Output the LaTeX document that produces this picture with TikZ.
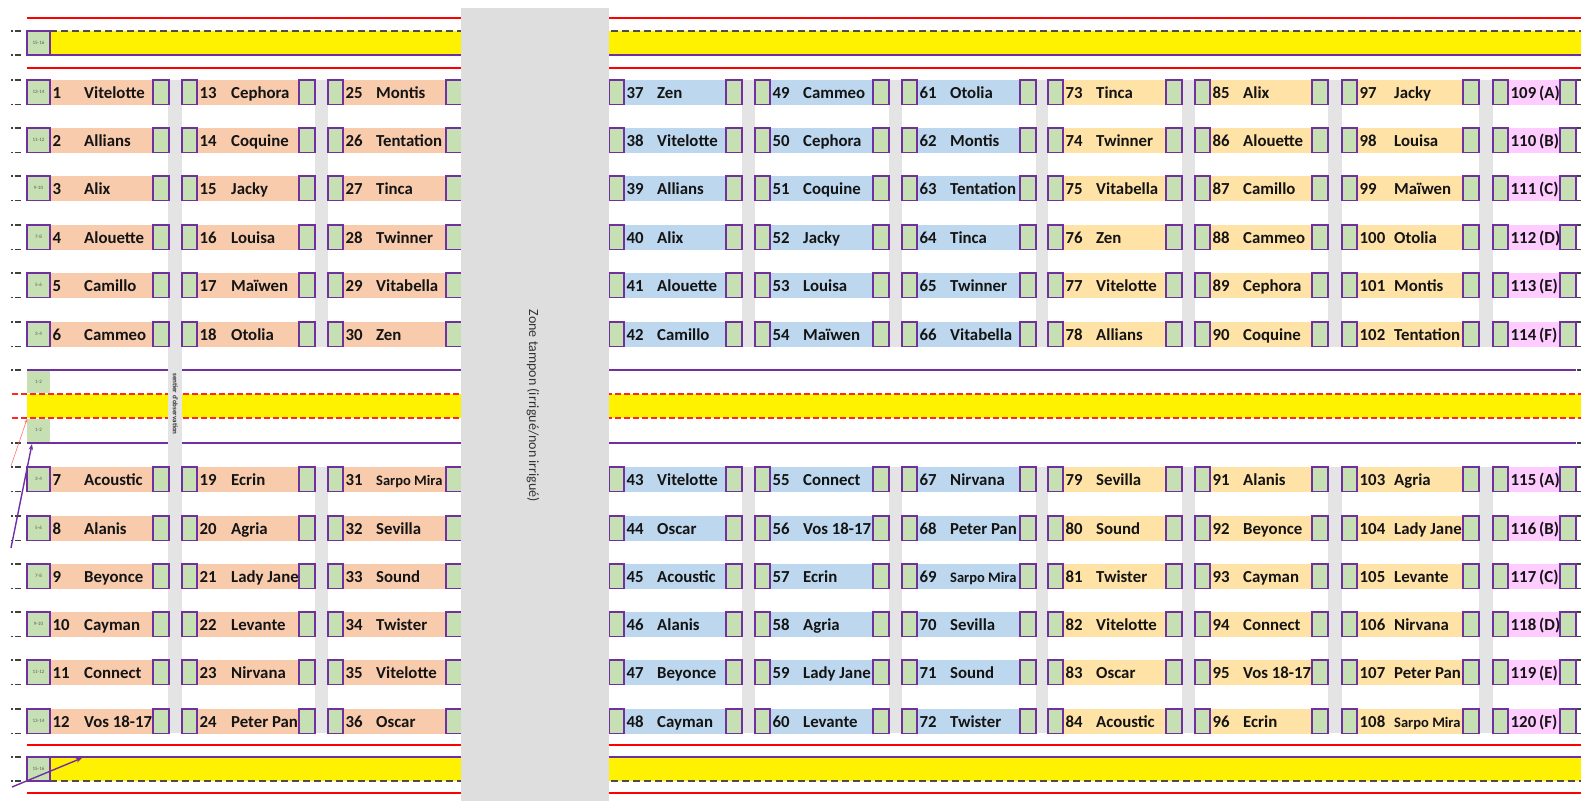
\documentclass[tikz,border=0pt]{standalone}
\usepackage{fontspec}
\setmainfont{Carlito}
\usetikzlibrary{arrows.meta}
\definecolor{plotgreen}{HTML}{C6E0B4}
\definecolor{plotpurple}{HTML}{7030A0}
\definecolor{peach}{HTML}{F8CBAD}
\definecolor{lblue}{HTML}{BDD7EE}
\definecolor{lorange}{HTML}{FFE2A6}
\definecolor{lpink}{HTML}{FFCCFF}
\definecolor{stripgrey}{HTML}{E4E4E4}
\definecolor{zonegrey}{HTML}{DEDEDE}
\newcommand\cellfont{\bfseries\fontsize{16.8}{17}\selectfont}
\newcommand\smallname[1]{{\fontsize{14.5}{15}\selectfont #1}}
% #1 left square x, #2 right square x, #3 band start x, #4 colour, #5 name offset, #6 list
\newcommand\plotcolumn[6]{%
  \foreach \n/\nm [count=\i from 0] in {#6}{%
    \pgfmathsetmacro\tp{{80,128,176,225,273,322,467,516,564,612,660,709}[\i]}%
    \fill[#4] ({#3},{\tp}) rectangle ({#2},{\tp+24.5});
    \draw[plotsq] ({#1},{\tp}) rectangle ({#3},{\tp+24.5});
    \draw[plotsq] ({#2},{\tp}) rectangle ({#2+16},{\tp+24.5});
    \node[celltxt] (n\n) at ({#3+2.5},{\tp+18.5}) {\n};
    \node[celltxt] (v\n) at ({#3+#5},{\tp+18.5}) {\nm};
  }}
\begin{document}
\begin{tikzpicture}[x=1pt,y=-1pt,
  plotsq/.style={draw=plotpurple,line width=1.5pt,fill=plotgreen},
  celltxt/.style={font=\cellfont,anchor=base west,inner sep=0pt,text=black!92},
  lbltxt/.style={font=\fontsize{5}{5}\selectfont,text=black!65,inner sep=0pt},
  redline/.style={draw=red,line width=2.8pt},
  purpleline/.style={draw=plotpurple,line width=2pt},
  reddash/.style={draw=red!85,line width=1.4pt,dash pattern=on 6pt off 3pt},
  blackdash/.style={draw=black!70,line width=1.6pt,dash pattern=on 7pt off 4pt},
  ticks/.style={draw=black!75,line width=1.1pt},
  strip/.style={fill=stripgrey}
]
\useasboundingbox (0,0) rectangle (1581,801);
\fill[white] (0,0) rectangle (1581,801);

% ---------- top band ----------
\draw[redline] (27,18) -- (1581,18);
\fill[yellow] (50,31) rectangle (1581,55);
\draw[blackdash] (50,31) -- (1581,31);
\draw[purpleline] (27,55) -- (1581,55);
\draw[plotsq] (27,31) rectangle (50,55);
\node[lbltxt] (ltop) at (38.5,43) {15-16};
\draw[redline] (27,68) -- (1581,68);

% ---------- middle band ----------
\fill[yellow] (27,394) rectangle (1581,418);
\draw[reddash] (12,394) -- (1581,394);
\draw[reddash] (12,418) -- (1581,418);
\draw[purpleline] (27,370) -- (1576,370);
\draw[purpleline] (27,443) -- (1576,443);
\fill[plotgreen] (27,371) rectangle (50,393);
\fill[plotgreen] (27,419) rectangle (50,442);
\node[lbltxt] (lmid1) at (38.5,382) {1-2};
\node[lbltxt] (lmid2) at (38.5,430) {1-2};

% ---------- bottom band ----------
\draw[redline] (27,745) -- (1581,745);
\fill[yellow] (50,757) rectangle (1581,781);
\draw[blackdash] (50,781) -- (1581,781);
\draw[purpleline] (27,757) -- (1581,757);
\draw[plotsq] (27,757) rectangle (50,781);
\node[lbltxt] (lbot) at (38.5,769) {15-16};
\draw[redline] (27,793) -- (1581,793);

% ---------- grey strips ----------
\fill[strip] (168,80) rectangle (182,733);
\foreach \a/\b in {315/328,742/755,889/902,1036/1048,1182/1195,1328/1342,1479/1493}{
  \fill[strip] (\a,80) rectangle (\b,347);
  \fill[strip] (\a,467) rectangle (\b,733);
}

% ---------- ticks ----------
\foreach \y in {31,55,80,104.5,128,152.5,176,200.5,225,249.5,273,297.5,322,346.5,370,443,467,491.5,516,540.5,564,588.5,612,636.5,660,684.5,709,733.5,757,781}{
  \draw[ticks] (11,\y) -- (13,\y);
  \draw[ticks] (15,\y) -- (21,\y);
}
\foreach \y in {80,104.5,128,152.5,176,200.5,225,249.5,273,297.5,322,346.5,370,443,467,491.5,516,540.5,564,588.5,612,636.5,660,684.5,709,733.5}{
  \draw[ticks] (1577,\y) -- (1581,\y);
}

% ---------- plots ----------
\plotcolumn{27}{153}{50}{peach}{34}{1/Vitelotte,2/Allians,3/Alix,4/Alouette,5/Camillo,6/Cammeo,7/Acoustic,8/Alanis,9/Beyonce,10/Cayman,11/Connect,12/Vos 18-17}
\plotcolumn{182}{299}{197}{peach}{34}{13/Cephora,14/Coquine,15/Jacky,16/Louisa,17/Maïwen,18/Otolia,19/Ecrin,20/Agria,21/Lady Jane,22/Levante,23/Nirvana,24/Peter Pan}
\plotcolumn{328}{446}{343}{peach}{33}{25/Montis,26/Tentation,27/Tinca,28/Twinner,29/Vitabella,30/Zen,31/\smallname{Sarpo Mira},32/Sevilla,33/Sound,34/Twister,35/Vitelotte,36/Oscar}
\plotcolumn{609}{726}{624}{lblue}{33}{37/Zen,38/Vitelotte,39/Allians,40/Alix,41/Alouette,42/Camillo,43/Vitelotte,44/Oscar,45/Acoustic,46/Alanis,47/Beyonce,48/Cayman}
\plotcolumn{755}{873}{770}{lblue}{33}{49/Cammeo,50/Cephora,51/Coquine,52/Jacky,53/Louisa,54/Maïwen,55/Connect,56/Vos 18-17,57/Ecrin,58/Agria,59/Lady Jane,60/Levante}
\plotcolumn{902}{1020}{917}{lblue}{33}{61/Otolia,62/Montis,63/Tentation,64/Tinca,65/Twinner,66/Vitabella,67/Nirvana,68/Peter Pan,69/\smallname{Sarpo Mira},70/Sevilla,71/Sound,72/Twister}
\plotcolumn{1048}{1166}{1063}{lorange}{33}{73/Tinca,74/Twinner,75/Vitabella,76/Zen,77/Vitelotte,78/Allians,79/Sevilla,80/Sound,81/Twister,82/Vitelotte,83/Oscar,84/Acoustic}
\plotcolumn{1195}{1312}{1210}{lorange}{33}{85/Alix,86/Alouette,87/Camillo,88/Cammeo,89/Cephora,90/Coquine,91/Alanis,92/Beyonce,93/Cayman,94/Connect,95/Vos 18-17,96/Ecrin}
\plotcolumn{1342}{1463}{1357}{lorange}{37}{97/Jacky,98/Louisa,99/Maïwen,100/Otolia,101/Montis,102/Tentation,103/Agria,104/Lady Jane,105/Levante,106/Nirvana,107/Peter Pan,108/\smallname{Sarpo Mira}}
\plotcolumn{1493}{1560}{1508}{lpink}{31}{109/(A),110/(B),111/(C),112/(D),113/(E),114/(F),115/(A),116/(B),117/(C),118/(D),119/(E),120/(F)}

% labels in the first squares
\foreach \t [count=\i from 0] in {13-14,11-12,9-10,7-8,5-6,3-4,3-4,5-6,7-8,9-10,11-12,13-14}{
  \pgfmathsetmacro\tp{{80,128,176,225,273,322,467,516,564,612,660,709}[\i]}
  \node[lbltxt] (lab\i) at (38.5,{\tp+12.25}) {\t};
}

% ---------- sentier d'observation ----------
\node[font=\bfseries\fontsize{7}{7}\selectfont,rotate=-90,inner sep=0pt,text=black!80] (sentier) at (175.5,404) {sentier d'observation};

% ---------- zone tampon ----------
\fill[zonegrey] (461,8) rectangle (609,801);
\node[font=\fontsize{14}{14}\selectfont,rotate=-90,inner sep=0pt,text=black!80] (zone) at (533,406) {Zone tampon (irrigué/non irrigué)};

% ---------- arrows ----------
\coordinate (a1s) at (12,787);
\coordinate (a1e) at (82,758);
\coordinate (a2s) at (11,548);
\coordinate (a2e) at (32,444);
\coordinate (a3s) at (11,466);
\coordinate (a3e) at (27,419);
\draw[plotpurple,line width=1.4pt,-{Stealth[length=6pt,width=4.5pt]}] (a1s) -- (a1e);
\draw[plotpurple,line width=1.4pt,-{Stealth[length=6pt,width=4.5pt]}] (a2s) -- (a2e);
\draw[red!55,line width=0.6pt,-{Stealth[length=4pt,width=3pt]}] (a3s) -- (a3e);
\end{tikzpicture}
\end{document}
